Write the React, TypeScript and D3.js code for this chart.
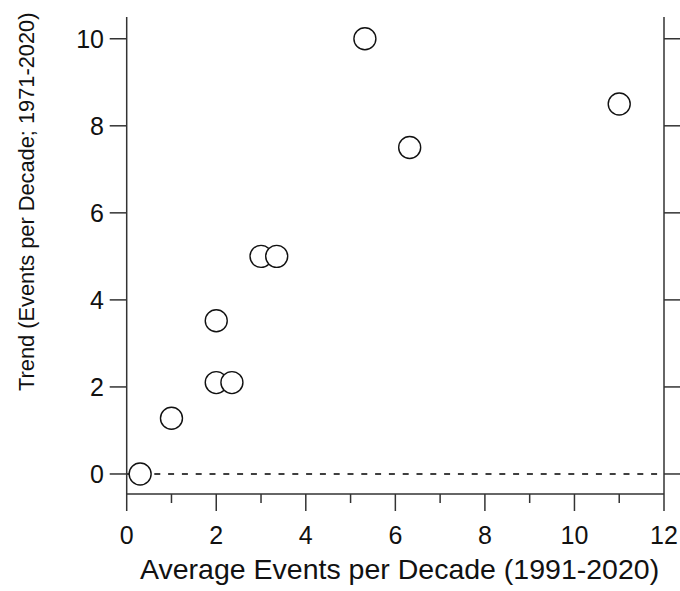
import React from "react";
import * as d3 from "d3";

const avgEvents = [0.3, 1.0, 2.0, 2.35, 2.0, 3.0, 3.35, 5.32, 6.32, 11.0];
const trends = [0.0, 1.28, 2.1, 2.1, 3.52, 5.0, 5.0, 10.0, 7.5, 8.5];
const xMajorTicks = [0, 2, 4, 6, 8, 10, 12];
const xMinorTicks = [1, 3, 5, 7, 9, 11];
const yTicks = [0, 2, 4, 6, 8, 10];
const xTitle = "Average Events per Decade (1991-2020)";
const yTitle = "Trend (Events per Decade; 1971-2020)";

const W = 680;
const H = 591;
const left = 126.7;
const right = 664;
const top = 17;
const bottom = 494;
const font = "'Liberation Sans', Arial, Helvetica, sans-serif";
const axisColor = "#333";

export default function App() {
  const x = d3.scaleLinear().domain([0, 12]).range([left, right]);
  const y = d3.scaleLinear().domain([-0.46, 10.5]).range([bottom, top]);
  const points = avgEvents.map((v, i) => ({ x: v, y: trends[i] }));
  const majorLen = 17;
  const minorLen = 9;

  return (
    <svg
      width={W}
      height={H}
      style={{ position: "absolute", left: 0, top: 0, background: "#fff" }}
      fontFamily={font}
    >
      <rect x={0} y={0} width={W} height={H} fill="#fff" />
      {/* dashed zero line */}
      <line
        x1={x(0)}
        x2={x(12)}
        y1={y(0)}
        y2={y(0)}
        stroke="#000"
        strokeWidth={1.5}
        strokeDasharray="6,7.8"
      />
      {/* axes */}
      <g stroke={axisColor} strokeWidth={1.5} fill="none">
        <line x1={left} x2={left} y1={top} y2={bottom} />
        <line x1={right} x2={right} y1={top} y2={bottom} />
        <line x1={left} x2={right} y1={bottom} y2={bottom} />
        {xMajorTicks.map((t) => (
          <line key={"xM" + t} x1={x(t)} x2={x(t)} y1={bottom} y2={bottom + majorLen} />
        ))}
        {xMinorTicks.map((t) => (
          <line key={"xm" + t} x1={x(t)} x2={x(t)} y1={bottom} y2={bottom + minorLen} />
        ))}
        {yTicks.map((t) => (
          <line key={"yl" + t} x1={left - majorLen} x2={left} y1={y(t)} y2={y(t)} />
        ))}
        {yTicks.map((t) => (
          <line key={"yr" + t} x1={right} x2={right + majorLen} y1={y(t)} y2={y(t)} />
        ))}
      </g>
      {/* tick labels */}
      <g fontSize={25} fill="#111">
        {xMajorTicks.map((t) => (
          <text key={"xl" + t} x={x(t)} y={544} textAnchor="middle">
            {t}
          </text>
        ))}
        {yTicks.map((t) => (
          <text key={"ylab" + t} x={104} y={y(t)} dy="0.36em" textAnchor="end">
            {t}
          </text>
        ))}
      </g>
      {/* axis titles */}
      <text x={140} y={579} textAnchor="start" fontSize={28.5} fill="#111">
        {xTitle}
      </text>
      <text
        transform={`translate(34, 391) rotate(-90)`}
        textAnchor="start"
        fontSize={21.8}
        fill="#111"
      >
        {yTitle}
      </text>
      {/* points */}
      <g>
        {points.map((p, i) => (
          <circle
            key={i}
            cx={x(p.x)}
            cy={y(p.y)}
            r={11}
            fill="#fff"
            stroke="#111"
            strokeWidth={1.4}
          />
        ))}
      </g>
    </svg>
  );
}
